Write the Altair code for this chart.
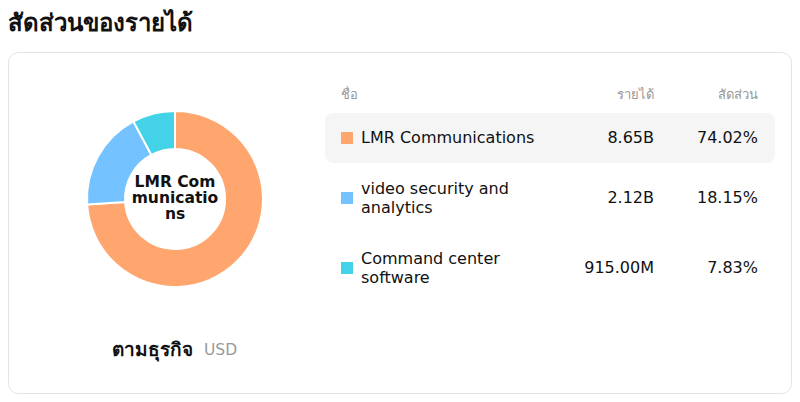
import altair as alt
import pandas as pd

# ---- data ----
title_text = "สัดส่วนของรายได้"
categories = ["LMR Communications", "video security and analytics", "Command center software"]
name_lines = ["LMR Communications", "video security and\nanalytics", "Command center\nsoftware"]
revenue = [8.65e9, 2.12e9, 0.915e9]
revenue_labels = ["8.65B", "2.12B", "915.00M"]
share_labels = ["74.02%", "18.15%", "7.83%"]
colors = ["#FFA66F", "#74C2FF", "#43D2E8"]
center_label = "LMR Com\nmunicatio\nns"
headers = ["ชื่อ", "รายได้", "สัดส่วน"]
footer_bold = "ตามธุรกิจ"
footer_unit = "USD"

W, H = 784, 386
FONT = "DejaVu Sans"
LH = 19

# row layout derived from number of text lines
rows = []
top = 105
for i, (c, nl) in enumerate(zip(categories, name_lines)):
    n = nl.count("\n") + 1
    h = 30 + 20 * n
    mid = top + h / 2
    rows.append(dict(idx=i, category=c, lines=nl, rev=revenue[i],
                     rev_label=revenue_labels[i], share=share_labels[i],
                     top=top, bottom=top + h, mid=mid, first=mid - (n - 1) * LH / 2))
    top += h
df = pd.DataFrame(rows)
one = pd.DataFrame({"k": [0]})

ypix = alt.Scale(domain=[0, H], range=[0, H])
color = alt.Color("category:N", scale=alt.Scale(domain=categories, range=colors), legend=None)

card = alt.Chart(one).mark_rect(fill="white", stroke="#E3E1EA", strokeWidth=1, cornerRadius=10).encode(
    x=alt.value(0.5), x2=alt.value(W - 0.5), y=alt.value(44.5), y2=alt.value(H - 0.5))

title = alt.Chart(one).mark_text(align="left", baseline="top", fontSize=24, fontWeight="bold",
                                 font=FONT, color="#111111").encode(
    x=alt.value(0), y=alt.value(4), text=alt.value(title_text))

donut = alt.Chart(df).mark_arc(outerRadius=88, innerRadius=50, stroke="white", strokeWidth=2).encode(
    theta=alt.Theta("rev:Q", stack=True),
    order=alt.Order("idx:Q"),
    color=color,
    x=alt.value(167), y=alt.value(191))

center = alt.Chart(one).mark_text(align="center", baseline="middle", fontSize=15.5, fontWeight="bold",
                                  font=FONT, lineBreak="\n", lineHeight=16, color="#111111").encode(
    x=alt.value(167), y=alt.value(174), text=alt.value(center_label))

hdr_kw = dict(baseline="middle", fontSize=13, font=FONT, color="#999999")
h1 = alt.Chart(one).mark_text(align="left", **hdr_kw).encode(x=alt.value(333), y=alt.value(87), text=alt.value(headers[0]))
h2 = alt.Chart(one).mark_text(align="right", **hdr_kw).encode(x=alt.value(646), y=alt.value(87), text=alt.value(headers[1]))
h3 = alt.Chart(one).mark_text(align="right", **hdr_kw).encode(x=alt.value(750), y=alt.value(87), text=alt.value(headers[2]))

base = alt.Chart(df)
highlight = base.transform_filter("datum.idx == 0").mark_rect(fill="#F5F5F5", cornerRadius=8).encode(
    y=alt.Y("top:Q", scale=ypix, axis=None), y2="bottom:Q", x=alt.value(317), x2=alt.value(767))

squares = base.mark_square(size=144, opacity=1).encode(
    y=alt.Y("mid:Q", scale=ypix, axis=None), x=alt.value(339), color=color)

row_kw = dict(baseline="middle", fontSize=16, font=FONT, color="#111111", lineBreak="\n", lineHeight=LH)
names = base.mark_text(align="left", **row_kw).encode(
    y=alt.Y("first:Q", scale=ypix, axis=None), x=alt.value(353), text="lines:N")
revs = base.mark_text(align="right", **row_kw).encode(
    y=alt.Y("mid:Q", scale=ypix, axis=None), x=alt.value(646), text="rev_label:N")
shares = base.mark_text(align="right", **row_kw).encode(
    y=alt.Y("mid:Q", scale=ypix, axis=None), x=alt.value(750), text="share:N")

foot1 = alt.Chart(one).mark_text(align="left", baseline="middle", fontSize=19, fontWeight="bold",
                                 font=FONT, color="#111111").encode(
    x=alt.value(104), y=alt.value(342), text=alt.value(footer_bold))
foot2 = alt.Chart(one).mark_text(align="left", baseline="middle", fontSize=15.5,
                                 font=FONT, color="#999999").encode(
    x=alt.value(196), y=alt.value(342), text=alt.value(footer_unit))

chart = alt.layer(card, title, donut, center, h1, h2, h3, highlight, squares, names, revs, shares,
                  foot1, foot2).properties(
    width=W, height=H, padding=0, autosize="none"
).configure_view(stroke=None).resolve_scale(color="shared")

chart.save("out.html", embed_options={"renderer": "svg", "actions": False})
